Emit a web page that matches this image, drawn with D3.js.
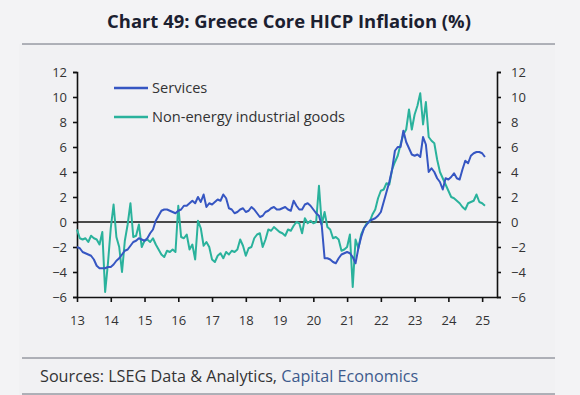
<!DOCTYPE html>
<html>
<head>
<meta charset="utf-8">
<script src="https://cdnjs.cloudflare.com/ajax/libs/d3/7.8.5/d3.min.js"></script>
<style>
  body { margin: 0; background: #f3f3f5; }
  svg { display: block; font-family: "Open Sans", sans-serif; }
</style>
</head>
<body>
<svg width="580" height="395"></svg>
<script>
// monthly y/y %, Jan 2013 onwards
var startYear = 2013;
var services = [
  -2.0, -2.1, -2.4, -2.5, -2.6, -2.7, -3.0, -3.5, -3.7, -3.7, -3.7, -3.6,
  -3.6, -3.4, -3.1, -2.9, -2.6, -2.3, -2.2, -1.9, -1.6, -1.5, -1.3, -1.4,
  -1.5, -1.3, -0.9, -0.6, 0.1, 0.5, 0.9, 1.0, 1.0, 0.9, 0.8, 0.7,
  0.9, 1.0, 1.3, 1.3, 1.5, 1.7, 1.5, 2.0, 1.6, 2.2, 1.2, 1.5,
  1.4, 1.6, 1.8, 1.7, 2.2, 1.9, 1.1, 1.0, 0.7, 0.8, 1.0, 1.1,
  0.8, 0.9, 1.2, 1.0, 0.7, 0.4, 0.5, 0.8, 0.9, 1.1, 1.2, 1.0,
  1.0, 1.1, 1.2, 1.0, 0.9, 1.7, 1.3, 1.0, 1.0, 1.4, 1.5, 1.3,
  1.0, 0.7, 0.5, -0.3, -2.9, -2.9, -3.0, -3.2, -3.3, -2.9, -2.6, -2.5,
  -2.4, -2.5, -2.8, -3.3, -2.1, -1.2, -0.5, -0.2, 0.1, 0.2, 0.3, 0.5,
  0.8, 1.6, 2.4, 3.2, 4.2, 5.7, 6.0, 6.0, 7.3, 6.4, 5.9, 5.4,
  5.3, 5.4, 5.2, 6.8, 6.2, 4.0, 4.3, 4.0, 3.5, 3.2, 2.6, 3.5,
  3.4, 3.6, 3.9, 3.5, 3.4, 4.2, 4.9, 4.7, 5.3, 5.5, 5.6, 5.6,
  5.5, 5.2
];
var goods = [
  -0.6, -1.3, -1.4, -1.3, -1.6, -1.1, -1.3, -1.4, -1.8, -0.8, -5.6, -3.3,
  -0.5, 1.4, -1.2, -2.0, -4.0, -1.5, -0.2, 1.5, -1.2, -1.1, -0.2, -2.0,
  -1.5, -1.4, -1.6, -1.3, -1.8, -2.2, -2.6, -2.8, -2.3, -2.4, -2.2, -2.4,
  1.3, -1.2, -1.3, -1.0, -2.2, -1.8, -3.0, 0.1, -0.5, -1.9, -1.6, -2.0,
  -3.0, -3.2, -2.7, -2.5, -2.9, -2.4, -2.6, -2.3, -2.4, -2.2, -1.4, -1.9,
  -2.7, -2.1, -2.0, -1.3, -1.0, -0.9, -2.0, -1.4, -0.6, -0.7, -0.4, -0.6,
  -0.8, -0.9, -1.1, -0.6, -0.7, -0.3, 0.0, -0.1, -0.9, 0.3, -0.1, 0.1,
  -0.1, 0.0, 2.9, -0.2, 0.8, -0.4, -0.6, -1.3, -1.2, -1.4, -2.3, -2.2,
  -2.0, -1.0, -5.2, -1.4, -2.1, -1.0, -0.5, -0.1, 0.0, 0.6, 1.0, 1.9,
  2.5, 2.6, 3.1, 3.0, 4.2, 4.8, 5.3, 6.2, 7.0, 7.4, 9.0, 7.4,
  8.6, 9.3, 10.3, 7.8, 9.6, 6.8, 6.5, 6.3, 5.0, 4.0, 3.5, 3.0,
  2.5, 2.0, 1.9, 1.7, 1.5, 1.2, 1.0, 1.5, 1.6, 1.7, 2.2, 1.6,
  1.5, 1.3
];
var seriesNames = ["Services", "Non-energy industrial goods"];
var seriesColors = ["#3656c2", "#2ab29c"];
var yTicks = [-6, -4, -2, 0, 2, 4, 6, 8, 10, 12];
var yearTicks = [2013, 2014, 2015, 2016, 2017, 2018, 2019, 2020, 2021, 2022, 2023, 2024, 2025];

var svg = d3.select("svg");
var plot = {left: 77, right: 497, top: 72, bottom: 297};

// panel + rules
svg.append("rect").attr("x", 19).attr("y", 44).attr("width", 536).attr("height", 351).attr("fill", "#f1f1f3");
svg.append("text").attr("x", 289).attr("y", 28).attr("text-anchor", "middle")
  .attr("font-size", 18.4).attr("font-weight", 700).attr("fill", "#1b2030")
  .text("Chart 49: Greece Core HICP Inflation (%)");
[44, 358, 394].forEach(function(y){
  svg.append("line").attr("x1", 22).attr("x2", 555).attr("y1", y).attr("y2", y)
    .attr("stroke", "#6a6e7a").attr("stroke-width", 1);
});

var x = d3.scaleLinear().domain([2013, 2025.44]).range([plot.left, plot.right]);
var y = d3.scaleLinear().domain([-6, 12]).range([plot.bottom, plot.top]);

function styleAxis(g) {
  g.selectAll("path, line").attr("stroke", "#111").attr("stroke-width", 1.6);
  g.selectAll("text").attr("fill", "#333").attr("font-size", 13).attr("font-family", "\"Open Sans\", sans-serif");
}

svg.append("g").attr("transform", "translate(" + plot.left + ",0)")
  .call(d3.axisLeft(y).tickValues(yTicks).tickSize(4).tickPadding(6).tickFormat(d3.format("d")))
  .call(styleAxis);
svg.append("g").attr("transform", "translate(" + plot.right + ",0)")
  .call(d3.axisRight(y).tickValues(yTicks).tickSize(4).tickPadding(10).tickFormat(d3.format("d")))
  .call(styleAxis);
svg.append("g").attr("transform", "translate(0," + plot.bottom + ")")
  .call(d3.axisBottom(x).tickValues(yearTicks).tickSize(5).tickSizeOuter(0).tickPadding(14)
    .tickFormat(function(d){ return String(d).slice(2); }))
  .call(styleAxis);

// zero line
svg.append("line").attr("x1", plot.left).attr("x2", plot.right)
  .attr("y1", y(0)).attr("y2", y(0)).attr("stroke", "#111").attr("stroke-width", 1.6);

var line = d3.line()
  .x(function(d, i){ return x(startYear + i / 12); })
  .y(function(d){ return y(d); });

[goods, services].forEach(function(s){
  var idx = s === services ? 0 : 1;
  svg.append("path").datum(s).attr("d", line)
    .attr("fill", "none").attr("stroke", seriesColors[idx])
    .attr("stroke-width", 2).attr("stroke-linejoin", "round");
});

// legend
seriesNames.forEach(function(n, i){
  var ly = 88 + i * 29;
  svg.append("line").attr("x1", 114).attr("x2", 148).attr("y1", ly).attr("y2", ly)
    .attr("stroke", seriesColors[i]).attr("stroke-width", 2.5);
  svg.append("text").attr("x", 152).attr("y", ly + 5).attr("font-size", 14.6)
    .attr("fill", "#333").text(n);
});

// sources
var src = svg.append("text").attr("x", 40).attr("y", 382).attr("font-size", 16.2).attr("fill", "#333");
src.append("tspan").text("Sources: LSEG Data & Analytics, ");
src.append("tspan").attr("fill", "#3d5a8c").text("Capital Economics");
</script>
</body>
</html>
